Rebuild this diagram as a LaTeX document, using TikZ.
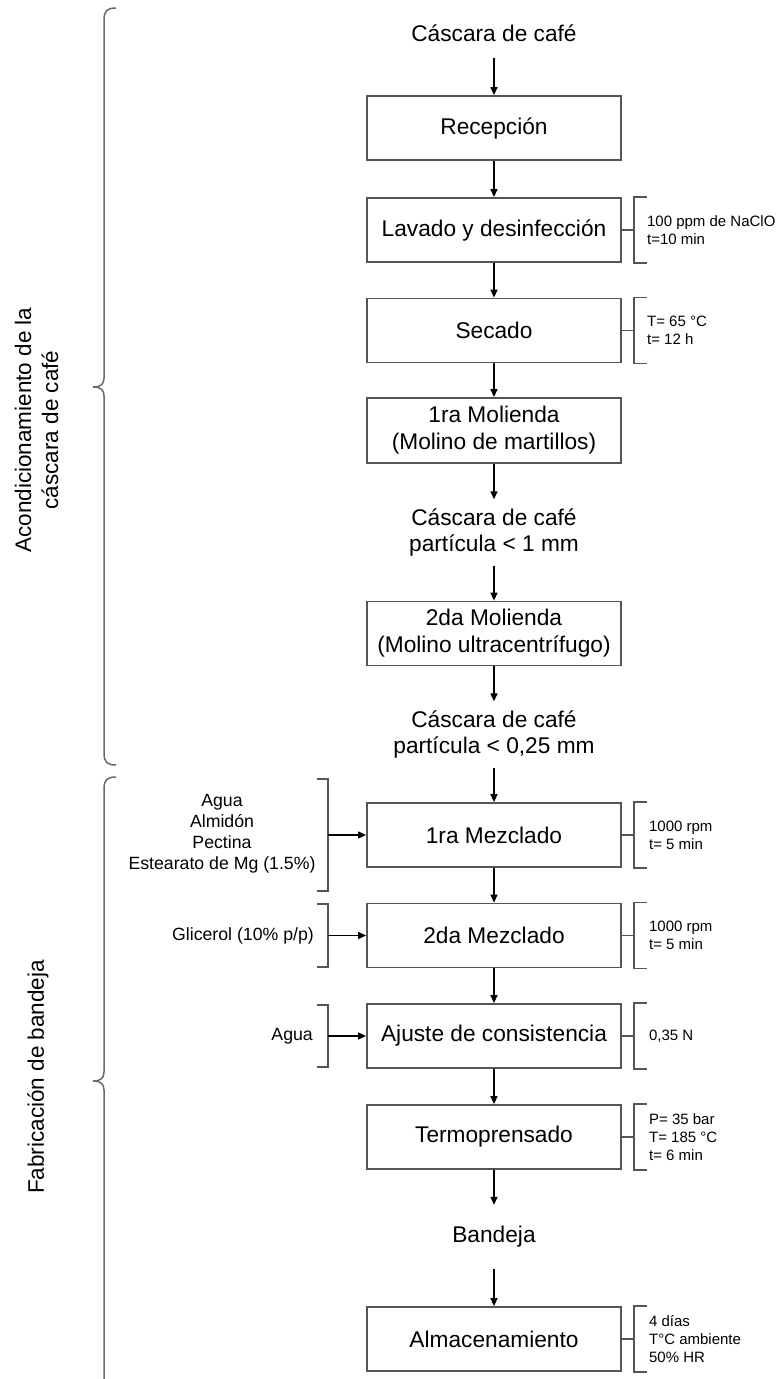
\documentclass[tikz,border=0pt]{standalone}
\usepackage{fontspec}
\setmainfont{Liberation Sans}
\usetikzlibrary{arrows.meta}
\definecolor{boxgray}{RGB}{85,85,85}
\definecolor{bracegray}{RGB}{105,105,105}
\begin{document}
\begin{tikzpicture}[x=1pt,y=-1pt,
  box/.style={draw=boxgray, line width=1.8pt, minimum width=254pt, minimum height=64pt, inner sep=0pt, align=center, font=\fontsize{22.7}{27}\selectfont},
  txt/.style={inner sep=0pt, align=center, font=\fontsize{22.7}{25.5}\selectfont},
  note/.style={inner sep=0pt, align=left, anchor=west, font=\fontsize{15}{18}\selectfont},
  inp/.style={inner sep=0pt, align=center, font=\fontsize{17.7}{21}\selectfont},
  arr/.style={-{Triangle[length=8pt,width=7pt]}, line width=1.3pt},
  brk/.style={draw=boxgray, line width=1.5pt},
  brace/.style={draw=bracegray, line width=1.5pt},
  side/.style={inner sep=0pt, align=center, rotate=90, font=\fontsize{22.5}{27}\selectfont}]
\useasboundingbox (0,0) rectangle (779,1379);

% main flow
\node[txt, minimum height=50pt] (c0) at (494,33) {Cáscara de café};
\node[box] (rec) at (494,128) {Recepción};
\node[box] (lav) at (494,230) {Lavado y desinfección};
\node[box] (sec) at (494,330.5) {Secado};
\node[box, minimum height=65pt] (mol1) at (494,430.5) {1ra Molienda\\(Molino de martillos)};
\node[txt, minimum height=66pt] (c1) at (494,532.5) {Cáscara de café\\partícula < 1 mm};
\node[box] (mol2) at (494,633.5) {2da Molienda\\(Molino ultracentrífugo)};
\node[txt, minimum height=66pt] (c2) at (494,734.5) {Cáscara de café\\partícula < 0,25 mm};
\node[box] (mez1) at (494,835) {1ra Mezclado};
\node[box] (mez2) at (494,935.5) {2da Mezclado};
\node[box] (aju) at (494,1036) {Ajuste de consistencia};
\node[box] (ter) at (494,1137) {Termoprensado};
\node[txt, minimum height=64pt] (band) at (494,1237) {Bandeja};
\node[box] (alm) at (494,1339) {Almacenamiento};

\foreach \a/\b in {c0/rec, rec/lav, lav/sec, sec/mol1, mol1/c1, c1/mol2, mol2/c2, c2/mez1, mez1/mez2, mez2/aju, aju/ter, ter/band, band/alm}
  \draw[arr] (\a.south) -- (\b.north);

% right brackets
\foreach \b in {lav,sec,mez1,mez2,aju,ter,alm}{
  \draw[brk] (\b.east) -- ++(12,0);
  \draw[brk] ([xshift=25pt]\b.north east) -- ++(-13,0) -- ([xshift=12pt]\b.south east) -- ++(13,0);
}
\node[note] (nlav) at ([xshift=25pt]lav.east) {100 ppm de NaClO\\t=10 min};
\node[note] (nsec) at ([xshift=25pt]sec.east) {T= 65 °C\\t= 12 h};
\node[note] (nmez1) at ([xshift=27pt]mez1.east) {1000 rpm\\t= 5 min};
\node[note] (nmez2) at ([xshift=27pt]mez2.east) {1000 rpm\\t= 5 min};
\node[note] (naju) at ([xshift=27pt]aju.east) {0,35 N};
\node[note] (nter) at ([xshift=27pt]ter.east) {P= 35 bar\\T= 185 °C\\t= 6 min};
\node[note] (nalm) at ([xshift=27pt]alm.east) {4 días\\T°C ambiente\\50\% HR};

% left inputs
\coordinate (k1) at ([xshift=-38pt]mez1.west);
\coordinate (k2) at ([xshift=-38pt]mez2.west);
\coordinate (k3) at ([xshift=-38pt]aju.west);
\draw[brk] ([xshift=-11pt]k1) ++(0,-56) -- ++(11,0) -- ++(0,112) -- ++(-11,0);
\draw[brk] ([xshift=-11pt]k2) ++(0,-31.5) -- ++(11,0) -- ++(0,63) -- ++(-11,0);
\draw[brk] ([xshift=-11pt]k3) ++(0,-31) -- ++(11,0) -- ++(0,62) -- ++(-11,0);
\draw[arr] (k1) -- (mez1.west);
\draw[arr] (k2) -- (mez2.west);
\draw[arr] (k3) -- (aju.west);
\node[inp] (i1) at (222,834) {Agua\\Almidón\\Pectina\\Estearato de Mg (1.5\%)};
\node[inp, anchor=east] (i2) at (314,935.5) {Glicerol (10\% p/p)};
\node[inp, anchor=east] (i3) at (313,1036) {Agua};

% left braces
\draw[brace] (116,8) .. controls (107,8) and (104,11) .. (104,20) -- (104,378)
  .. controls (104,384) and (101,387) .. (93,387)
  .. controls (101,387) and (104,390) .. (104,396) -- (104,753)
  .. controls (104,762) and (107,765) .. (116,765);
\draw[brace] (116,777) .. controls (107,777) and (104,780) .. (104,789) -- (104,1072)
  .. controls (104,1078) and (101,1081) .. (93,1081)
  .. controls (101,1081) and (104,1084) .. (104,1090) -- (104,1385);

\node[side] (s1) at (36.5,430) {Acondicionamiento de la\\cáscara de café};
\node[side] (s2) at (38,1077) {Fabricación de bandeja};
\end{tikzpicture}
\end{document}
